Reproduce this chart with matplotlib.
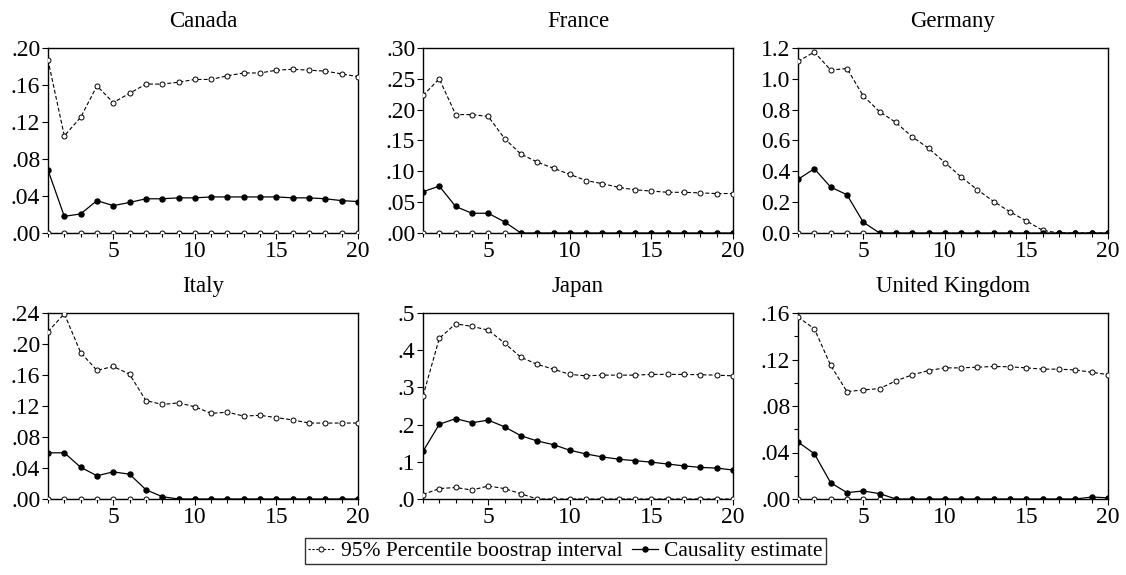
import matplotlib
matplotlib.use("Agg")
import matplotlib.pyplot as plt
from matplotlib.ticker import FixedLocator, FuncFormatter, MultipleLocator
from matplotlib.lines import Line2D

plt.rcParams['font.family'] = ['Liberation Serif', 'DejaVu Serif']

horizon = list(range(1, 21))

canada_upper = [0.187, 0.105, 0.125, 0.159, 0.141, 0.151, 0.161, 0.161, 0.163, 0.166,
                0.166, 0.170, 0.173, 0.173, 0.176, 0.177, 0.176, 0.175, 0.172, 0.169]
canada_est = [0.068, 0.018, 0.0206, 0.035, 0.0296, 0.033, 0.037, 0.037, 0.038, 0.038,
              0.039, 0.039, 0.039, 0.039, 0.039, 0.038, 0.038, 0.037, 0.035, 0.034]
canada_lower = [0.0] * 20

france_upper = [0.223, 0.250, 0.192, 0.192, 0.189, 0.153, 0.128, 0.115, 0.105, 0.095,
                0.085, 0.080, 0.074, 0.070, 0.068, 0.066, 0.066, 0.065, 0.064, 0.064]
france_est = [0.067, 0.076, 0.043, 0.032, 0.032, 0.018, 0.0, 0.0, 0.0, 0.0,
              0.0, 0.0, 0.0, 0.0, 0.0, 0.0, 0.0, 0.0, 0.0, 0.0]
france_lower = [0.0] * 20

germany_upper = [1.113, 1.174, 1.057, 1.067, 0.889, 0.787, 0.717, 0.624, 0.550, 0.457,
                 0.363, 0.280, 0.204, 0.137, 0.078, 0.017, 0.0, 0.0, 0.0, 0.0]
germany_est = [0.348, 0.417, 0.298, 0.248, 0.070, 0.0, 0.0, 0.0, 0.0, 0.0,
               0.0, 0.0, 0.0, 0.0, 0.0, 0.0, 0.0, 0.0, 0.0, 0.0]
germany_lower = [0.0] * 20

italy_upper = [0.216, 0.239, 0.189, 0.166, 0.171, 0.161, 0.127, 0.122, 0.124, 0.119,
               0.1105, 0.112, 0.107, 0.108, 0.105, 0.102, 0.098, 0.098, 0.098, 0.098]
italy_est = [0.0596, 0.0596, 0.041, 0.030, 0.035, 0.032, 0.012, 0.003, 0.0, 0.0,
             0.0, 0.0, 0.0, 0.0, 0.0, 0.0, 0.0, 0.0, 0.0, 0.0]
italy_lower = [0.0] * 20

japan_upper = [0.277, 0.432, 0.471, 0.464, 0.454, 0.419, 0.381, 0.362, 0.349, 0.335,
               0.331, 0.333, 0.333, 0.333, 0.335, 0.335, 0.335, 0.334, 0.333, 0.331]
japan_est = [0.128, 0.201, 0.216, 0.205, 0.212, 0.194, 0.170, 0.156, 0.146, 0.131,
             0.121, 0.113, 0.107, 0.103, 0.099, 0.094, 0.089, 0.085, 0.083, 0.078]
japan_lower = [0.012, 0.028, 0.031, 0.024, 0.035, 0.028, 0.014, 0.0, 0.0, 0.0,
               0.0, 0.0, 0.0, 0.0, 0.0, 0.0, 0.0, 0.0, 0.0, 0.0]

uk_upper = [0.1565, 0.1465, 0.115, 0.0924, 0.0938, 0.095, 0.1016, 0.1068, 0.1105, 0.1128,
            0.1128, 0.1134, 0.114, 0.1137, 0.1128, 0.1117, 0.1117, 0.111, 0.109, 0.107]
uk_est = [0.049, 0.039, 0.014, 0.0055, 0.0069, 0.0046, 0.0, 0.0, 0.0, 0.0,
          0.0, 0.0, 0.0, 0.0, 0.0, 0.0, 0.0, 0.0, 0.0017, 0.001]
uk_lower = [0.0] * 20

countries = ["Canada", "France", "Germany", "Italy", "Japan", "United Kingdom"]
uppers = [canada_upper, france_upper, germany_upper, italy_upper, japan_upper, uk_upper]
ests = [canada_est, france_est, germany_est, italy_est, japan_est, uk_est]
lowers = [canada_lower, france_lower, germany_lower, italy_lower, japan_lower, uk_lower]

y_max = [0.20, 0.30, 1.2, 0.24, 0.5, 0.16]
y_step = [0.04, 0.05, 0.2, 0.04, 0.1, 0.04]
y_fmt = ["{:.2f}", "{:.2f}", "{:.1f}", "{:.2f}", "{:.1f}", "{:.2f}"]
y_strip = [True, True, False, True, True, True]
y_minor = [None, None, None, None, None, 0.02]

legend_labels = ["95% Percentile boostrap interval", "Causality estimate"]

W, H = 1126, 575
fig = plt.figure(figsize=(W / 100, H / 100), dpi=100)

col_left = [48, 423, 798]
col_w = 310
row_top = [48, 313]
row_h = [185, 186]

TICK_FS = 17
TITLE_FS = 16.5

for i, name in enumerate(countries):
    r, c = divmod(i, 3)
    l = col_left[c] / W
    b = 1 - (row_top[r] + row_h[r]) / H
    ax = fig.add_axes([l, b, col_w / W, row_h[r] / H])
    dash = dict(color='black', lw=0.8, linestyle=(0, (3.5, 2)),
                marker='o', markersize=3.6, markerfacecolor='white',
                markeredgecolor='black', markeredgewidth=0.7)
    ax.plot(horizon, lowers[i], zorder=3, **dash)
    ax.plot(horizon, uppers[i], zorder=3, **dash)
    ax.plot(horizon, ests[i], color='black', lw=0.9, marker='o', markersize=3.6,
            markerfacecolor='black', markeredgecolor='black', zorder=4)
    ax.set_xlim(1, 20)
    ax.set_ylim(0, y_max[i])
    ax.xaxis.set_major_locator(FixedLocator([5, 10, 15, 20]))
    ax.xaxis.set_minor_locator(MultipleLocator(1))
    n = int(round(y_max[i] / y_step[i]))
    ax.yaxis.set_major_locator(FixedLocator([k * y_step[i] for k in range(n + 1)]))
    if y_minor[i]:
        ax.yaxis.set_minor_locator(MultipleLocator(y_minor[i]))
    fmt = y_fmt[i]
    strip = y_strip[i]

    def f(v, pos, fmt=fmt, strip=strip):
        s = fmt.format(abs(v))
        if strip and s.startswith("0"):
            s = s[1:]
        return s
    ax.yaxis.set_major_formatter(FuncFormatter(f))
    ax.tick_params(axis='both', which='major', labelsize=TICK_FS, length=4,
                   width=0.8, direction='out', pad=1.5, colors='black')
    ax.tick_params(axis='both', which='minor', length=3, width=0.8, direction='out')
    for sp in ax.spines.values():
        sp.set_linewidth(1.0)
        sp.set_color('black')
    ax.set_title(name, fontsize=TITLE_FS, pad=15)

h1 = Line2D([], [], color='black', lw=0.8, linestyle=(0, (2, 1.5)), marker='o',
            markersize=3.6, markerfacecolor='white', markeredgecolor='black',
            markeredgewidth=0.7)
h2 = Line2D([], [], color='black', lw=0.9, marker='o', markersize=3.6,
            markerfacecolor='black', markeredgecolor='black')
leg = fig.legend([h1, h2], legend_labels, loc='center', ncol=2,
                 bbox_to_anchor=(565.5 / W, 1 - 551 / H), fontsize=15.5,
                 frameon=True, fancybox=False, shadow=False, handlelength=1.2,
                 handletextpad=0.3, columnspacing=0.45, borderpad=0.15,
                 borderaxespad=0)
leg.get_frame().set_edgecolor('black')
leg.get_frame().set_linewidth(1.0)

fig.savefig("out.png", dpi=100, facecolor='white')
